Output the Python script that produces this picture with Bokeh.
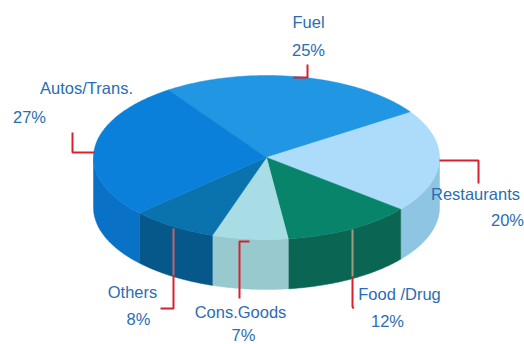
import numpy as np
from bokeh.core.properties import value
from bokeh.embed import file_html
from bokeh.models import Range1d
from bokeh.plotting import figure
from bokeh.resources import INLINE

categories = ["Fuel", "Restaurants", "Food /Drug", "Cons.Goods", "Others", "Autos/Trans."]
shares = [25, 20, 12, 7, 8, 27]
share_labels = ["25%", "20%", "12%", "7%", "8%", "27%"]

top_colors = ["#2196E2", "#ADDCFB", "#08846A", "#A9DDE6", "#0A72AC", "#0A80DA"]
side_colors = ["#2196E2", "#8EC5E3", "#0A6652", "#97C9CE", "#07588A", "#0A72C6"]

# Pie geometry in page pixels
CX, CY, RX, RY, DEPTH = 266, 157, 173, 82, 50
START_ANGLE = 124.5
TEXT_COLOR = "#2A6DB2"
RED = "#D8202F"

# Label anchors: (category x, category y, share x, share y)
label_xy = [
    (308, 21, 308, 49),
    (475, 193, 507, 219),
    (399, 293, 387, 320),
    (240, 311, 243, 334),
    (132, 291, 138, 318),
    (86, 87, 29, 116),
]

# Leader polylines, one per slice, with the stroke colour of each run
leaders = [
    ([307, 307, 293], [64, 77, 77], RED),
    ([439, 478, 478], [160, 160, 183], RED),
    ([352, 352], [229, 276], "#A09C84"),
    ([352, 352, 353], [276, 306, 308], RED),
    ([239, 239, 249], [298, 241, 241], RED),
    ([173, 173], [228, 275], "#C8606C"),
    ([173, 173, 160], [275, 308, 308], RED),
    ([72, 72, 94], [132, 152, 152], RED),
]

p = figure(
    width=524, height=344, output_backend="svg", toolbar_location=None,
    x_range=Range1d(0, 524), y_range=Range1d(344, 0),
    min_border=0, outline_line_color=None, background_fill_color="white",
)
p.axis.visible = False
p.grid.visible = False


def ellipse_point(deg, drop=0.0):
    t = np.radians(deg)
    return CX + RX * np.cos(t), CY - RY * np.sin(t) + drop


# Slice boundaries run clockwise from the start angle
total = sum(shares)
edges = START_ANGLE - np.cumsum([0] + shares) * 360.0 / total

# Outer wall: only the part of each slice on the near side of the rim
for i in range(len(shares)):
    hi, lo = edges[i], edges[i + 1]
    for k in (-1, 0):
        a = max(lo, -180 + 360 * k)
        b = min(hi, 0 + 360 * k)
        if b <= a:
            continue
        ts = np.linspace(a, b, 80)
        xu, yu = ellipse_point(ts)
        xl, yl = ellipse_point(ts[::-1], DEPTH)
        p.patch(np.r_[xu, xl], np.r_[yu, yl], fill_color=side_colors[i],
                line_color=side_colors[i], line_width=0.5)

# Top face
for i in range(len(shares)):
    ts = np.linspace(edges[i], edges[i + 1], 120)
    x, y = ellipse_point(ts)
    p.patch(np.r_[CX, x], np.r_[CY, y], fill_color=top_colors[i],
            line_color=top_colors[i], line_width=0.5)

for xs, ys, color in leaders:
    p.line(xs, ys, line_color=color, line_width=2)

for name, share, (nx, ny, sx, sy) in zip(categories, share_labels, label_xy):
    for txt, tx, ty in ((name, nx, ny), (share, sx, sy)):
        p.text([tx], [ty], text=[txt], text_align="center", text_baseline="middle",
               text_color=TEXT_COLOR, text_font=value("Liberation Sans"),
               text_font_size="16.5px")

open("out.html", "w").write(file_html(p, INLINE))
